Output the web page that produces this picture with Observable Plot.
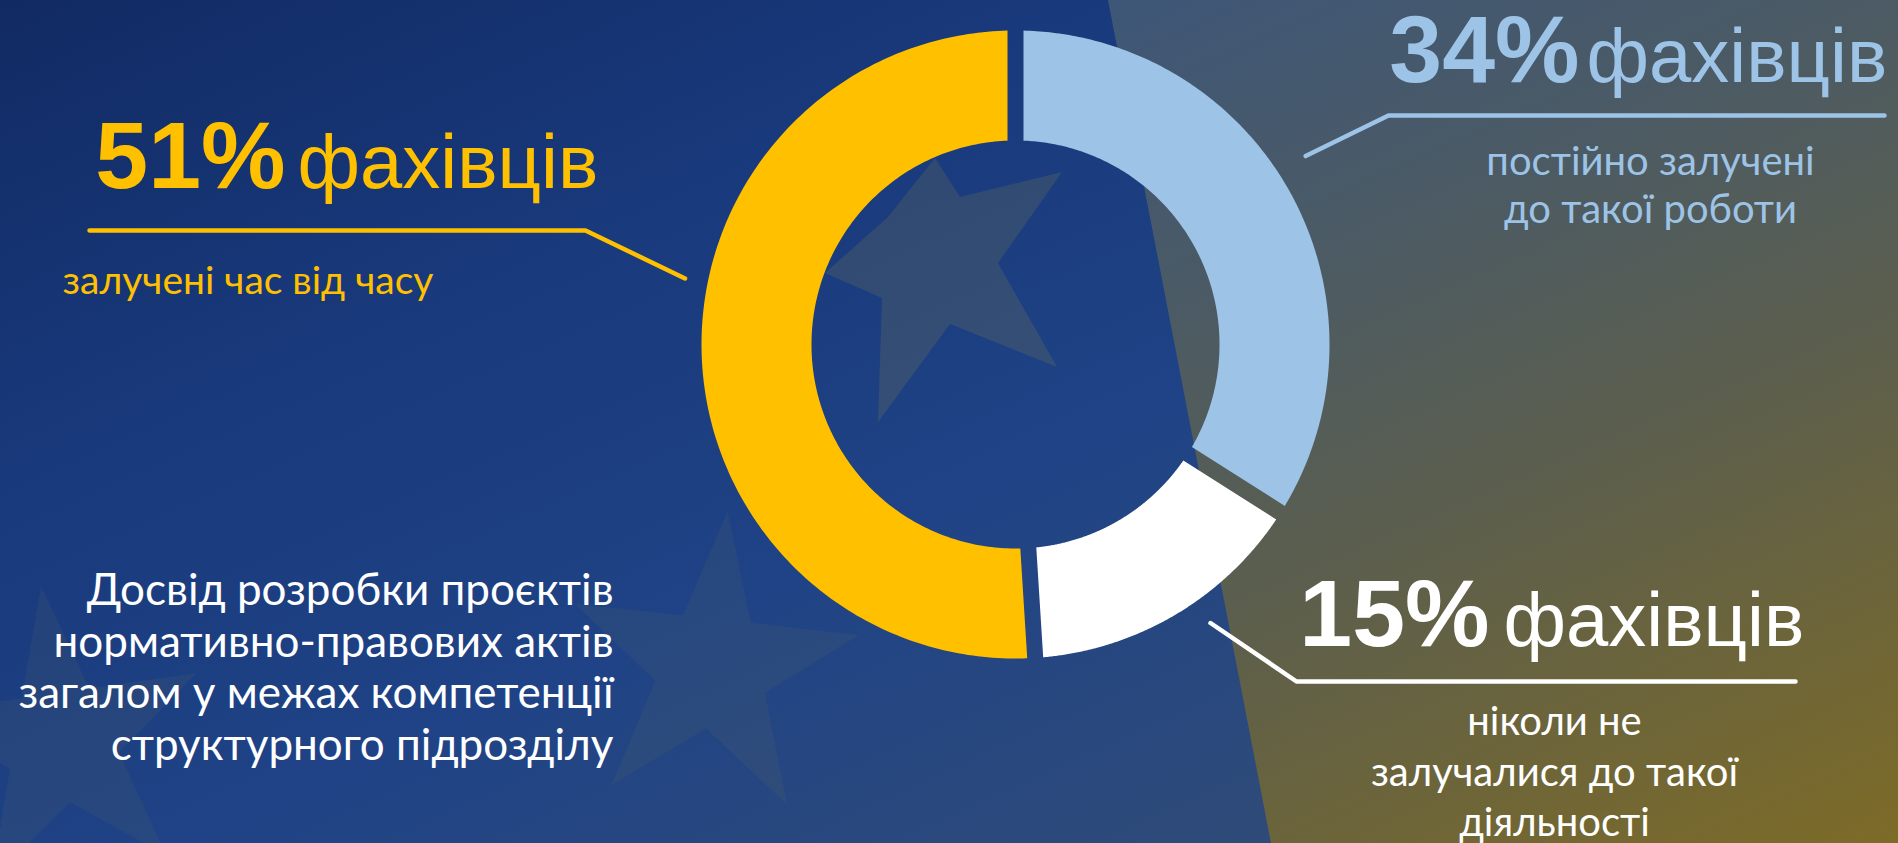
<!DOCTYPE html>
<html>
<head>
<meta charset="utf-8">
<script src="https://cdn.jsdelivr.net/npm/d3@7"></script>
<script src="https://cdn.jsdelivr.net/npm/@observablehq/plot@0.6"></script>
<style>
  html, body { margin: 0; padding: 0; width: 1898px; height: 843px; overflow: hidden; background: #142f6c; }
  #bg { position: absolute; left: 0; top: 0; width: 1898px; height: 843px;
        background: linear-gradient(to bottom right, #112a63 0%, #193a7d 30%, #1f4386 55%, #2d4a7a 80%, #3a4d66 100%); }
  #bg2 { position: absolute; left: 0; top: 0; width: 1898px; height: 843px;
         clip-path: polygon(1108px 0, 1898px 0, 1898px 843px, 1271px 843px);
         background: linear-gradient(to bottom right, #2f5086 0%, #3d5679 28%, #4a5a66 48%, #5d5f4c 70%, #7d6b27 100%); }
  #stars { position: absolute; left: 0; top: 0; }
  #chart { position: absolute; left: 0; top: 0; }
</style>
</head>
<body>
<div id="bg"></div>
<div id="bg2"></div>
<svg id="stars" width="1898" height="843"></svg>
<div id="chart"></div>
<script>
// ---------------- DATA ----------------
const categories = [
  "постійно залучені до такої роботи",
  "ніколи не залучалися до такої діяльності",
  "залучені час від часу"
];
const shares = [34, 15, 51];
const segmentColors = ["#9DC3E6", "#FFFFFF", "#FFC000"];
const unitLabel = "фахівців";
const descriptionLines = [
  ["постійно залучені", "до такої роботи"],
  ["ніколи не", "залучалися до такої", "діяльності"],
  ["залучені час від часу"]
];
const titleLines = [
  "Досвід розробки проєктів",
  "нормативно-правових актів",
  "загалом у межах компетенції",
  "структурного підрозділу"
];

// ---------------- LAYOUT ----------------
const W = 1898, H = 843;
const donut = {cx: 1015, cy: 344, outer: 314, inner: 204, gap: 16};
const labelLayout = [
  {leaderAngle: 57, leaderR: 346, elbow: [1388, 115], lineEnd: 1884, pctEnd: 1579, unitStart: 1586, pctBase: 81,
   descAnchor: "middle", descX: 1650, descBase: [174, 222], descSize: 40},
  {leaderAngle: 145, leaderR: 340, elbow: [1296, 681], lineEnd: 1795, pctEnd: 1489, unitStart: 1503, pctBase: 645,
   descAnchor: "middle", descX: 1554, descBase: [734, 785, 835], descSize: 40},
  {leaderAngle: 281.3, leaderR: 337, elbow: [585, 230], lineEnd: 89, pctEnd: 285, unitStart: 297, pctBase: 187,
   descAnchor: "start", descX: 62, descBase: [293], descSize: 39}
];
const titleLayout = {x: 613, base: [604, 656, 707, 759], size: 44};

// ---------------- BACKGROUND STARS (decoration) ----------------
(function drawStars() {
  const svg = d3.select("#stars");
  svg.append("polygon")
    .attr("points", [[935,158],[960,197],[1062,172],[998,263],[1057,367],[950,324],[878,422],[882,298],[825,273],[887,218]].join(" "))
    .attr("fill", "rgba(255,205,0,0.10)");
  function star(cx, cy, R, r, rot, sy) {
    const pts = [];
    for (let k = 0; k < 10; k++) {
      const a = (rot + k * 36) * Math.PI / 180;
      const rr = k % 2 ? r : R;
      pts.push([cx + rr * Math.sin(a), cy - rr * Math.cos(a) * sy]);
    }
    return pts.join(" ");
  }
  svg.append("polygon").attr("points", star(62, 742, 150, 58, -8, 1.05)).attr("fill", "rgba(255,205,0,0.045)");
  svg.append("polygon").attr("points", star(712, 668, 150, 58, 6, 1.05)).attr("fill", "rgba(255,205,0,0.045)");
})();

// ---------------- GEOMETRY FROM DATA ----------------
const pie = d3.pie().sort(null).value(d => d)(shares);
const ring = [];
pie.forEach((p, i) => {
  const n = 200;
  for (const [rr, dir] of [[donut.outer, 1], [donut.inner, -1]]) {
    const d = Math.asin(donut.gap / 2 / rr);
    const a0 = p.startAngle + d, a1 = p.endAngle - d;
    for (let k = 0; k <= n; k++) {
      const t = dir > 0 ? k / n : 1 - k / n;
      const a = a0 + (a1 - a0) * t;
      ring.push({cat: categories[i], color: segmentColors[i],
                 x: donut.cx + rr * Math.sin(a), y: donut.cy - rr * Math.cos(a)});
    }
  }
});

const leaders = [];
labelLayout.forEach((L, i) => {
  const a = L.leaderAngle * Math.PI / 180;
  leaders.push({cat: categories[i], color: segmentColors[i], x: donut.cx + L.leaderR * Math.sin(a), y: donut.cy - L.leaderR * Math.cos(a)});
  leaders.push({cat: categories[i], color: segmentColors[i], x: L.elbow[0], y: L.elbow[1]});
  leaders.push({cat: categories[i], color: segmentColors[i], x: L.lineEnd, y: L.elbow[1]});
});

const pctLabels = shares.map((s, i) => ({text: `${s}%`, color: segmentColors[i], x: labelLayout[i].pctEnd, y: labelLayout[i].pctBase}));
const unitLabels = shares.map((s, i) => ({text: unitLabel, color: segmentColors[i], x: labelLayout[i].unitStart, y: labelLayout[i].pctBase}));
const descLabels = descriptionLines.map((lines, i) => lines.map((t, j) => ({
  text: t, color: segmentColors[i], x: labelLayout[i].descX, y: labelLayout[i].descBase[j]
})));
const titleLabels = titleLines.map((t, j) => ({text: t, x: titleLayout.x, y: titleLayout.base[j]}));

const bodyFont = "Lato, Carlito, Calibri, sans-serif";
const headFont = "'Liberation Sans', Arial, Helvetica, sans-serif";

const chart = Plot.plot({
  width: W, height: H,
  marginTop: 0, marginRight: 0, marginBottom: 0, marginLeft: 0,
  x: {domain: [0, W], range: [0, W], axis: null},
  y: {domain: [0, H], range: [0, H], axis: null},
  color: {type: "identity"},
  style: {background: "none", overflow: "visible"},
  marks: [
    Plot.line(ring, {x: "x", y: "y", z: "cat", fill: "color", stroke: "none", curve: "linear-closed"}),
    Plot.line(leaders, {x: "x", y: "y", z: "cat", stroke: "color", strokeWidth: 4.5, strokeLinejoin: "round", curve: "linear"}),
    Plot.text(pctLabels, {x: "x", y: "y", text: "text", fill: "color", textAnchor: "end", lineAnchor: "bottom",
      fontFamily: headFont, fontWeight: "bold", fontSize: 95}),
    Plot.text(unitLabels, {x: "x", y: "y", text: "text", fill: "color", textAnchor: "start", lineAnchor: "bottom",
      fontFamily: headFont, fontSize: 76}),
    ...descLabels.map((arr, i) => Plot.text(arr, {x: "x", y: "y", text: "text", fill: "color",
      textAnchor: labelLayout[i].descAnchor, lineAnchor: "bottom", fontFamily: bodyFont, fontSize: labelLayout[i].descSize})),
    Plot.text(titleLabels, {x: "x", y: "y", text: "text", fill: "#FFFFFF", textAnchor: "end", lineAnchor: "bottom",
      fontFamily: bodyFont, fontSize: titleLayout.size})
  ]
});
document.getElementById("chart").appendChild(chart);
</script>
</body>
</html>
